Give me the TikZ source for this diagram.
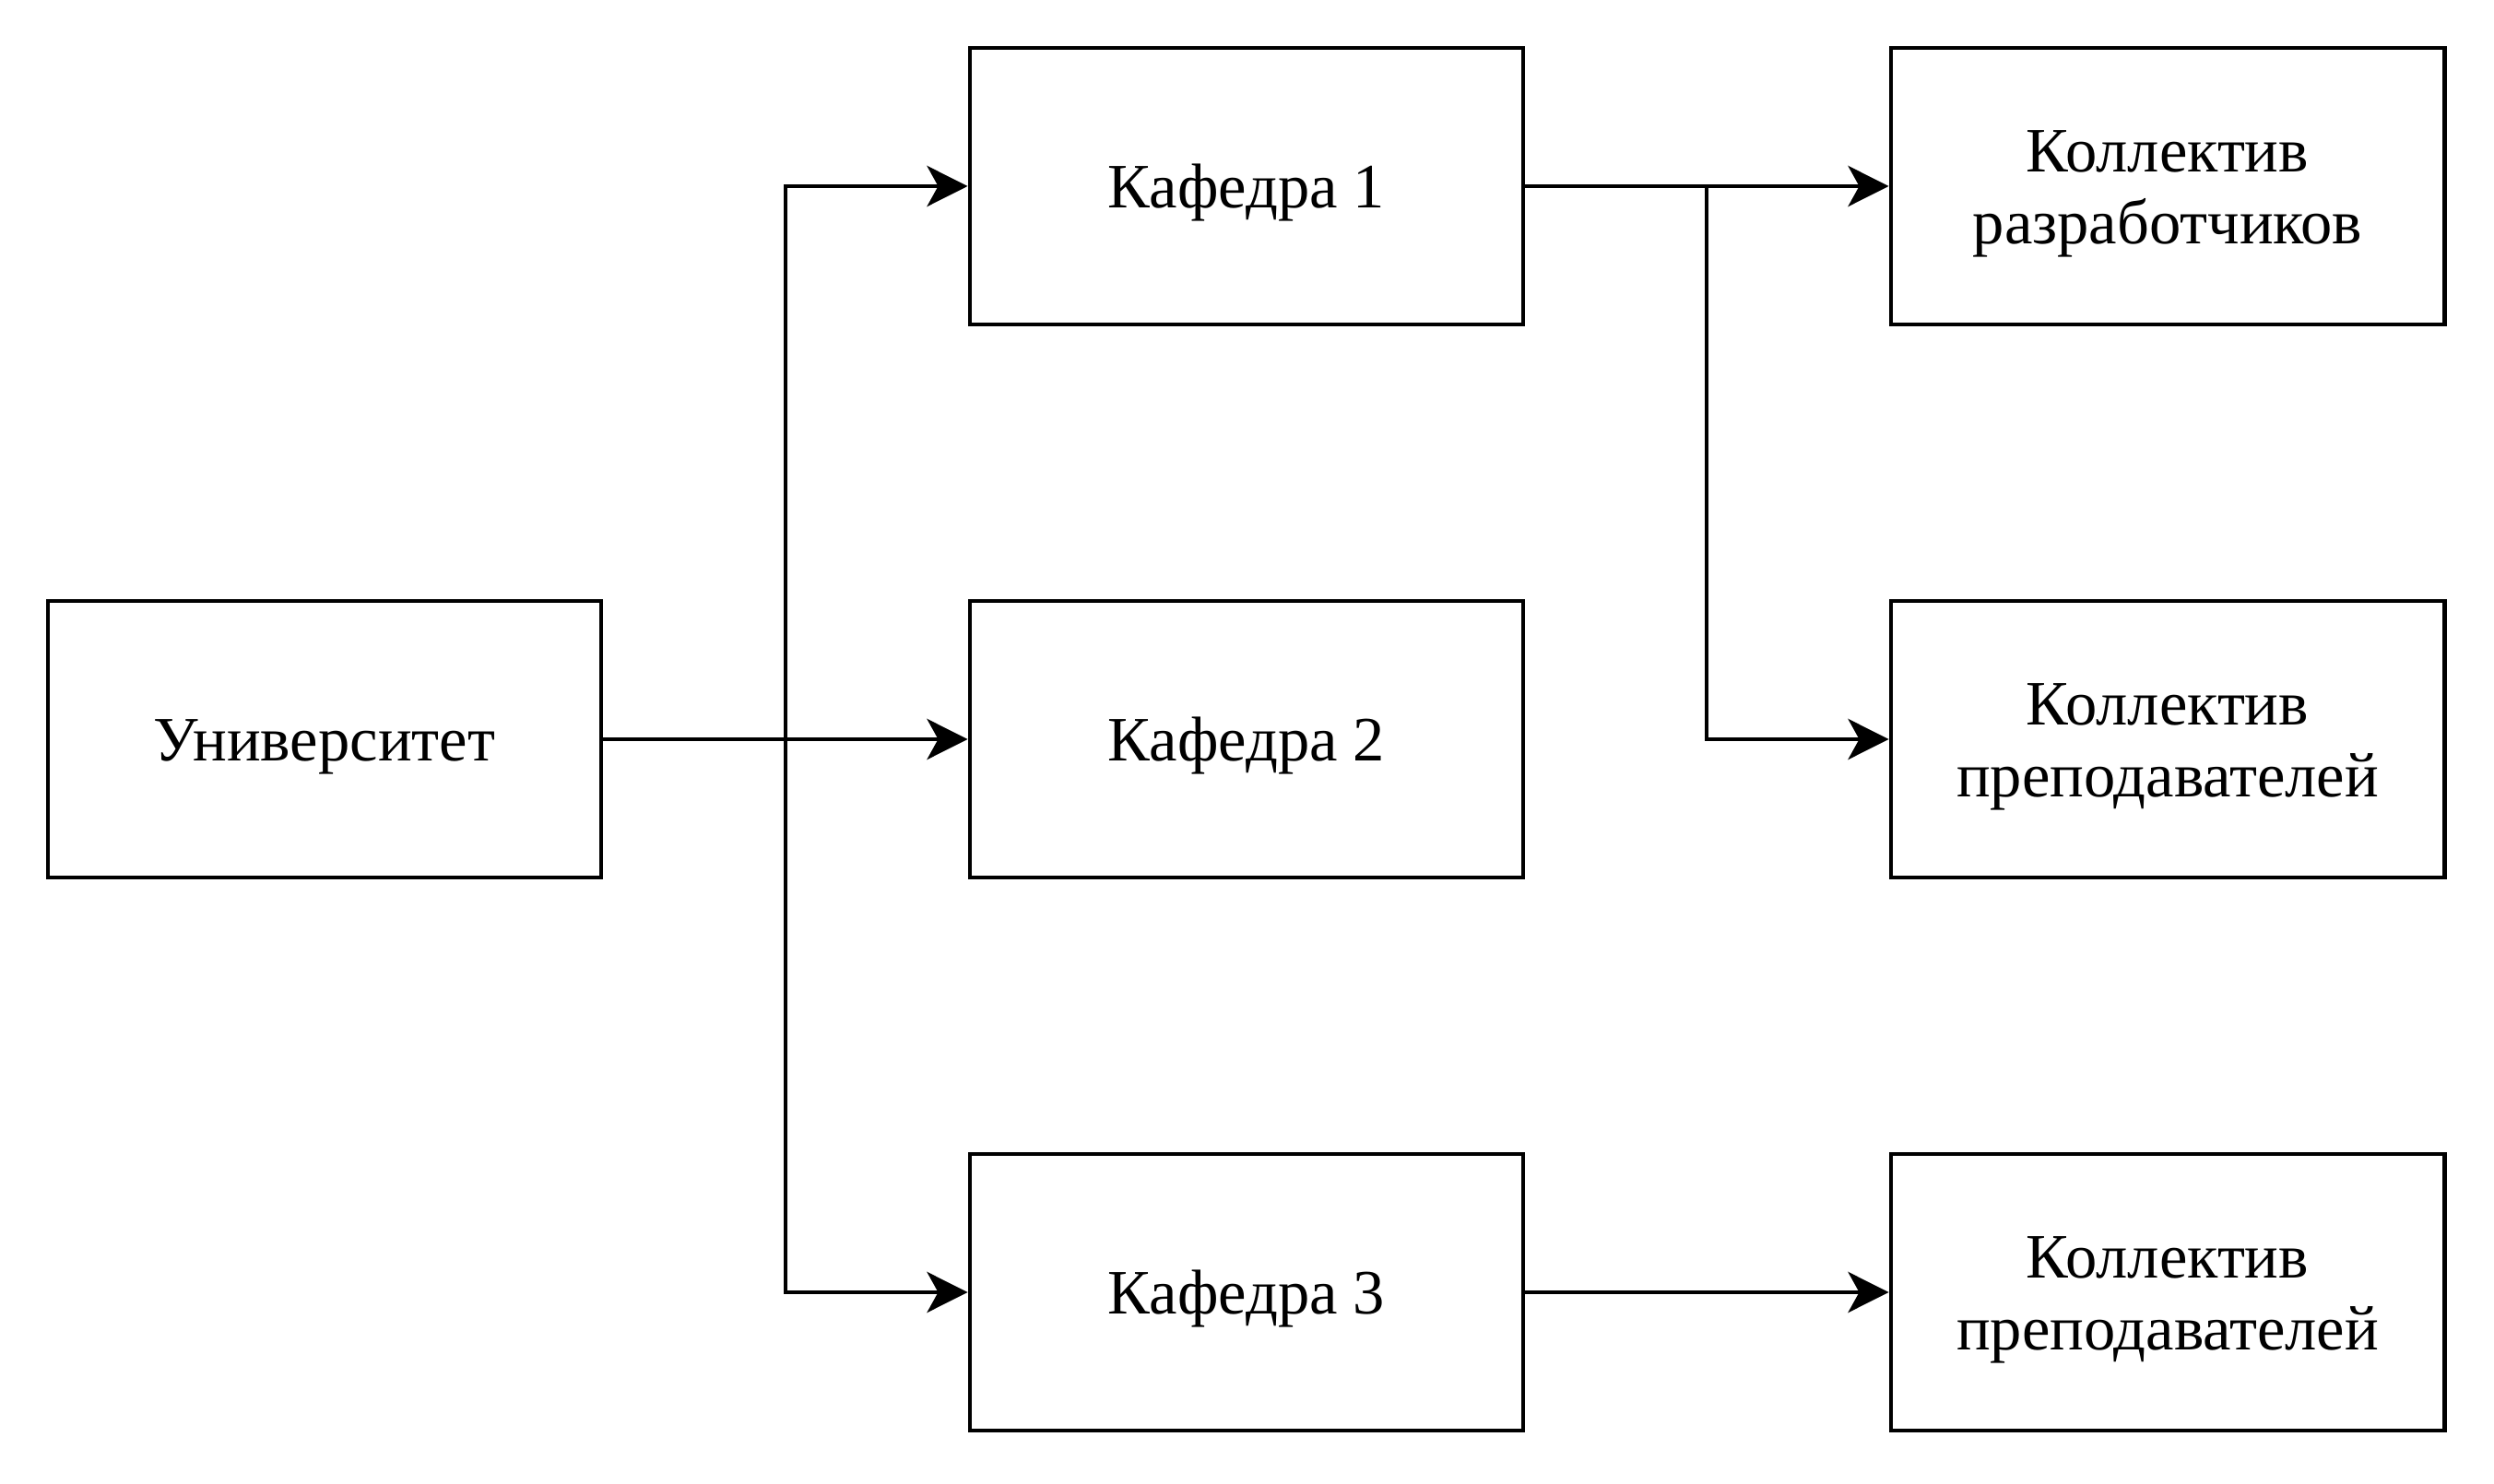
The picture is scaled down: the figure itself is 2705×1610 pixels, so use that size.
\documentclass[tikz,border=0pt]{standalone}
\usepackage{fontspec}
\setmainfont{Liberation Serif}
\usetikzlibrary{arrows.meta}
\newcommand{\bxtext}[1]{\raisebox{-0.08cm}[\height][\depth]{\begin{tabular}{@{}c@{}}#1\end{tabular}}}
\begin{document}
\begin{tikzpicture}[x=0.01cm,y=-0.01cm,
  boxnode/.style={draw=black, line width=0.046cm, minimum width=6cm, minimum height=3cm,
    inner sep=0pt, align=center, font=\fontsize{19.5}{22.2}\selectfont},
  arr/.style={line width=0.046cm, -{Stealth[length=0.44cm, width=0.44cm, inset=0.12cm]}}]
\useasboundingbox (0,0) rectangle (2705,1610);
\node[boxnode] (u) at (352,802) {\bxtext{Университет}};
\node[boxnode] (k1) at (1352,202) {\bxtext{Кафедра 1}};
\node[boxnode] (k2) at (1352,802) {\bxtext{Кафедра 2}};
\node[boxnode] (k3) at (1352,1402) {\bxtext{Кафедра 3}};
\node[boxnode] (r1) at (2351,202) {\bxtext{Коллектив\\разработчиков}};
\node[boxnode] (r2) at (2351,802) {\bxtext{Коллектив\\преподавателей}};
\node[boxnode] (r3) at (2351,1402) {\bxtext{Коллектив\\преподавателей}};
\coordinate (b1) at (852,802);
\coordinate (b2) at (1851,202);
\draw[arr] (u.east) -- (k2.west);
\draw[arr] (b1) |- (k1.west);
\draw[arr] (b1) |- (k3.west);
\draw[arr] (k1.east) -- (r1.west);
\draw[arr] (b2) |- (r2.west);
\draw[arr] (k3.east) -- (r3.west);
\end{tikzpicture}
\end{document}
